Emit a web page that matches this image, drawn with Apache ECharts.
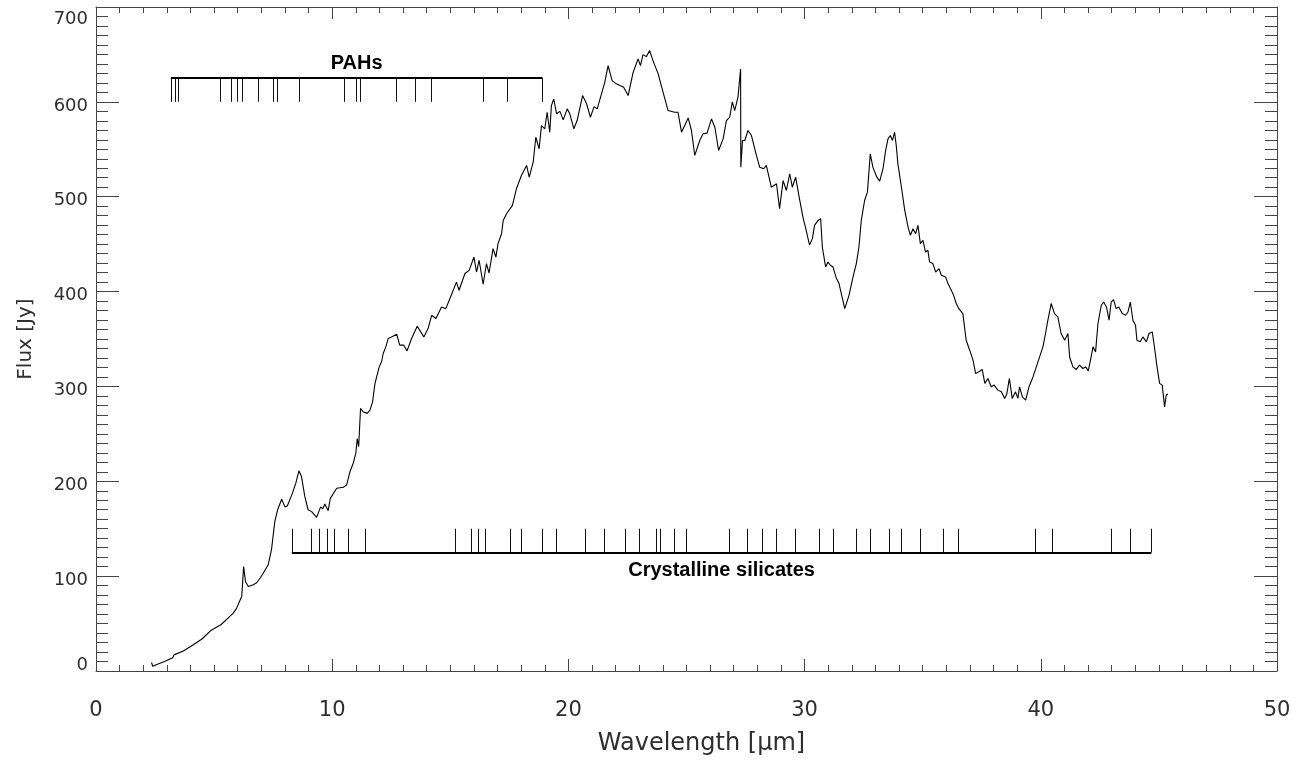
<!DOCTYPE html>
<html>
<head>
<meta charset="utf-8">
<script src="https://cdn.jsdelivr.net/npm/echarts@6/dist/echarts.min.js"></script>
<style>
  html, body { margin: 0; padding: 0; background: #ffffff; }
  #chart { width: 1306px; height: 765px; }
</style>
</head>
<body>
<div id="chart"></div>
<script>
// Spectrum: wavelength (µm) and flux density (Jy)
const wavelength = [
  2.35, 2.4, 2.6, 2.9, 3.25, 3.3, 3.35, 3.7, 4.12, 4.5, 4.88, 4.93, 5.3, 5.6, 5.81, 5.95,
  6.07, 6.17, 6.25, 6.33, 6.45, 6.66, 6.8, 6.95, 7.08, 7.29, 7.43, 7.57, 7.69, 7.86,
  8.0, 8.1, 8.31, 8.46, 8.59, 8.7, 8.84, 8.98, 9.13, 9.34, 9.51, 9.6, 9.69, 9.83, 9.92,
  10.19, 10.47, 10.61, 10.75, 10.89, 11.0, 11.06, 11.12, 11.2, 11.31, 11.48, 11.6, 11.71,
  11.81, 11.88, 11.99, 12.09, 12.16, 12.27, 12.37, 12.51, 12.73, 12.86, 13.03, 13.17,
  13.36, 13.6, 13.88, 14.06, 14.21, 14.39, 14.63, 14.81, 15.01, 15.26, 15.37, 15.62,
  15.8, 16.0, 16.11, 16.22, 16.39, 16.53, 16.64, 16.81, 16.93, 17.02, 17.17, 17.24,
  17.38, 17.63, 17.8, 18.01, 18.23, 18.34, 18.51, 18.62, 18.76, 18.86, 19.0, 19.1,
  19.21, 19.28, 19.38, 19.5, 19.64, 19.78, 19.95, 20.06, 20.23, 20.37, 20.6, 20.77,
  20.93, 21.09, 21.22, 21.4, 21.54, 21.68, 21.85, 22.03, 22.2, 22.34, 22.53, 22.74,
  22.95, 23.05, 23.16, 23.3, 23.44, 23.58, 23.8, 24.01, 24.22, 24.5, 24.64, 24.79,
  25.07, 25.21, 25.35, 25.56, 25.7, 25.87, 26.06, 26.2, 26.36, 26.55, 26.69, 26.83,
  26.94, 27.04, 27.18, 27.29, 27.3, 27.37, 27.47, 27.6, 27.75, 27.96, 28.1, 28.27,
  28.38, 28.59, 28.81, 28.94, 29.09, 29.23, 29.37, 29.48, 29.62, 29.79, 29.93, 30.05,
  30.21, 30.33, 30.42, 30.57, 30.68, 30.75, 30.89, 30.99, 31.09, 31.2, 31.35, 31.46,
  31.52, 31.7, 31.88, 32.05, 32.19, 32.3, 32.4, 32.54, 32.66, 32.78, 32.89, 33.06,
  33.18, 33.32, 33.43, 33.53, 33.63, 33.72, 33.81, 33.88, 33.95, 34.1, 34.24, 34.38,
  34.48, 34.59, 34.7, 34.8, 34.9, 35.01, 35.12, 35.22, 35.29, 35.43, 35.55, 35.69,
  35.79, 35.97, 36.07, 36.21, 36.31, 36.42, 36.53, 36.7, 36.84, 36.99, 37.13, 37.24,
  37.38, 37.52, 37.63, 37.76, 37.9, 38.03, 38.18, 38.33, 38.47, 38.56, 38.67, 38.79,
  38.93, 39.03, 39.1, 39.22, 39.36, 39.5, 39.67, 39.81, 39.95, 40.09, 40.2, 40.3,
  40.44, 40.58, 40.72, 40.86, 41.01, 41.15, 41.22, 41.36, 41.5, 41.64, 41.78, 41.9,
  42.01, 42.13, 42.21, 42.32, 42.42, 42.56, 42.66, 42.78, 42.89, 42.98, 43.08, 43.19,
  43.3, 43.45, 43.59, 43.69, 43.79, 43.9, 44.01, 44.07, 44.21, 44.32, 44.47, 44.58,
  44.72, 44.82, 44.91, 45.03, 45.14, 45.24, 45.31, 45.38
];
const flux = [
  9, 5, 7, 10, 14, 17, 15.5, 21, 27.7, 34, 43, 41, 49, 56, 61, 66,
  73, 78.5, 110, 94, 89, 91, 93, 98, 103, 112, 128, 157.5, 170, 181,
  173, 174, 187, 198, 211, 205, 184, 170, 168, 162, 173, 171, 176, 169, 182,
  192.6, 193.7, 196, 210, 219, 229.5, 245, 236.4, 276.8, 273.3, 271.6, 275, 283.8,
  303, 304.8, 320.6, 326, 334.7, 341.7, 350.5, 352.2, 355, 343.5, 343.5, 337.5,
  350.5, 363.5, 352.2, 361, 375, 371.6, 383.8, 382, 394.3, 410, 401.4, 419,
  422.4, 436.4, 420.6, 433, 407.7, 429.5, 419.6, 445.3, 436.4, 450.5, 461, 475,
  482, 490.8, 508.4, 522.4, 533, 520.6, 536.4, 562.7, 550.5, 575, 571.6, 589,
  568, 596, 603, 587.4, 590, 581, 592.6, 587.4, 571.6, 580.3, 606.6, 598,
  583.8, 595, 592.6, 608.4, 620.6, 638.2, 622.4, 619, 617, 615.4, 606.6, 631,
  645.3, 638.2, 649.8, 647.7, 654, 643.5, 629.5, 610, 590.8, 589, 589, 568,
  583, 569.8, 543.5, 559.3, 566.3, 567, 582, 573.3, 548.7, 561, 580.3, 583.8,
  600, 590.8, 605, 634.7, 531, 559.3, 559.3, 569.8, 564.5, 543.5, 531, 529.5,
  533, 510, 513.7, 487.4, 517, 506.6, 524.2, 510, 520.6, 497, 478.5, 466.3,
  449, 455.8, 469.8, 475, 476.8, 447, 426, 431.2, 427.7, 426, 413.7, 408.4,
  401.4, 382, 396, 415.4, 429.5, 447, 475, 496, 504.8, 545.3, 531.2, 520.6,
  516.4, 529.5, 548.7, 561, 564.5, 559.3, 568, 554, 534.7, 510, 485.6, 468,
  459.3, 466.3, 461, 469.8, 450.5, 454, 441.7, 443.5, 431.2, 429.5, 420.6, 424.2,
  417.2, 415.4, 408.4, 401.4, 396, 387.4, 382, 376.8, 348.7, 338.2, 327.7, 313.7,
  315.4, 317.9, 303.2, 308.4, 299.6, 301.4, 296.1, 294.3, 287.4, 291.9, 308.4, 287.4,
  294.3, 287.4, 299.6, 289, 285.6, 299.6, 310, 320.6, 331.2, 341.7, 355.8, 369.8,
  387.4, 376.8, 373.3, 355.8, 348.7, 355.8, 331, 320.6, 317.9, 322.4, 318.9, 320.6,
  316.4, 331.2, 341.7, 336.4, 366.3, 385.6, 389, 383.8, 369.8, 389, 391.6, 382,
  383.8, 376.8, 375, 378.5, 389, 369.8, 364.5, 348.7, 347, 352.2, 347, 355.8,
  357.5, 340, 322.4, 303.2, 301.4, 278.5, 291, 292
];

// Band positions (µm) marked above and below the spectrum
const pahBands = [3.2, 3.34, 3.47, 5.25, 5.71, 5.98, 6.18, 6.89, 7.5, 7.67, 8.59,
  10.5, 11.0, 11.17, 12.7, 13.5, 14.21, 16.39, 17.41, 18.9];
const silicateBands = [8.29, 9.13, 9.45, 9.79, 10.1, 10.69, 11.41, 15.19, 15.9, 16.18,
  16.5, 17.52, 17.99, 18.9, 19.5, 20.71, 21.5, 22.4, 22.99, 23.7, 23.87, 24.5, 24.99,
  26.8, 27.58, 28.2, 28.81, 29.61, 30.6, 31.2, 32.19, 32.8, 33.6, 34.08, 34.88, 35.89,
  36.49, 39.78, 40.49, 42.98, 43.79, 44.68];

// Marker bars: [start µm, end µm], bar level and tick end level (Jy)
const pahBar = [3.17, 18.9];
const pahLevels = [625, 600];
const silicateBar = [8.29, 44.68];
const silicateLevels = [125, 150];

const bandNames = ['PAHs', 'Crystalline silicates'];
const axisNames = ['Wavelength [µm]', 'Flux [Jy]'];

const AXIS_COLOR = '#444444';
const TEXT_COLOR = '#2e2e2e';
const NUM_FONT = 'DejaVu Sans';

function xAxisDef(pos, withLabels) {
  return {
    type: 'value', position: pos, min: 0, max: 50, interval: 10,
    axisLine: { show: true, onZero: false, lineStyle: { color: AXIS_COLOR, width: 1 } },
    axisTick: { show: true, inside: true, length: 12, lineStyle: { color: AXIS_COLOR, width: 1 } },
    minorTick: { show: true, splitNumber: 10, length: 6, lineStyle: { color: AXIS_COLOR, width: 1 } },
    splitLine: { show: false },
    minorSplitLine: { show: false },
    axisLabel: withLabels ? {
      show: true, margin: 29, fontFamily: NUM_FONT, fontSize: 21, color: TEXT_COLOR
    } : { show: false },
    name: withLabels ? axisNames[0] : '',
    nameLocation: 'middle',
    nameGap: 61,
    nameTextStyle: { fontFamily: NUM_FONT, fontSize: 24, color: TEXT_COLOR, padding: [0, 0, 0, 30] }
  };
}

function yAxisDef(pos, withLabels) {
  const rich = {
    n: { fontFamily: NUM_FONT, fontSize: 18, color: TEXT_COLOR, padding: [8, 0, 0, 0] },
    lo: { fontFamily: NUM_FONT, fontSize: 18, color: TEXT_COLOR, padding: [0, 0, 12, 0] },
    hi: { fontFamily: NUM_FONT, fontSize: 18, color: TEXT_COLOR, padding: [24, 0, 0, 0] }
  };
  return {
    type: 'value', position: pos, min: 0, max: 700, interval: 100,
    axisLine: { show: true, onZero: false, lineStyle: { color: AXIS_COLOR, width: 1 } },
    axisTick: { show: true, inside: true, length: 23, lineStyle: { color: AXIS_COLOR, width: 1 } },
    minorTick: { show: true, splitNumber: 10, length: 12, lineStyle: { color: AXIS_COLOR, width: 1 } },
    splitLine: { show: false },
    minorSplitLine: { show: false },
    axisLabel: withLabels ? {
      show: true, margin: 8, fontFamily: NUM_FONT, fontSize: 18, color: TEXT_COLOR,
      formatter: function (v) {
        if (v === 0) return '{lo|0}';
        if (v === 700) return '{hi|700}';
        return '{n|' + v + '}';
      },
      rich: rich
    } : { show: false },
    name: withLabels ? axisNames[1] : '',
    nameLocation: 'middle',
    nameRotate: 90,
    nameGap: 60,
    nameTextStyle: { fontFamily: NUM_FONT, fontSize: 20, color: TEXT_COLOR }
  };
}

function bandLabel(position, text, distance) {
  return {
    show: true, position: position, formatter: text, distance: distance,
    fontFamily: 'Liberation Sans', fontWeight: 'bold', fontSize: 20, color: '#000000'
  };
}

const chart = echarts.init(document.getElementById('chart'), null, { renderer: 'canvas' });

chart.setOption({
  animation: false,
  backgroundColor: '#ffffff',
  grid: { left: 96, right: 29, top: 7, bottom: 94, containLabel: false },
  xAxis: [xAxisDef('bottom', true), xAxisDef('top', false)],
  yAxis: [yAxisDef('left', true), yAxisDef('right', false)],
  series: [
    {
      type: 'line',
      data: wavelength.map((w, i) => [w, flux[i]]),
      showSymbol: false,
      symbol: 'none',
      lineStyle: { color: '#000000', width: 1.1 },
      z: 3
    },
    {
      type: 'lines',
      coordinateSystem: 'cartesian2d',
      data: pahBands.map(w => ({ coords: [[w, pahLevels[0]], [w, pahLevels[1]]] })),
      lineStyle: { color: '#111111', width: 1, opacity: 1 },
      z: 2
    },
    {
      type: 'lines',
      coordinateSystem: 'cartesian2d',
      data: [{ coords: [[pahBar[0], pahLevels[0]], [pahBar[1], pahLevels[0]]] }],
      lineStyle: { color: '#000000', width: 2, opacity: 1 },
      label: bandLabel('insideMiddleTop', bandNames[0], 5),
      z: 2
    },
    {
      type: 'lines',
      coordinateSystem: 'cartesian2d',
      data: silicateBands.map(w => ({ coords: [[w, silicateLevels[0]], [w, silicateLevels[1]]] })),
      lineStyle: { color: '#111111', width: 1, opacity: 1 },
      z: 2
    },
    {
      type: 'lines',
      coordinateSystem: 'cartesian2d',
      data: [{ coords: [[silicateBar[0], silicateLevels[0]], [silicateBar[1], silicateLevels[0]]] }],
      lineStyle: { color: '#000000', width: 2, opacity: 1 },
      label: bandLabel('insideMiddleBottom', bandNames[1], 8),
      z: 2
    }
  ]
});
</script>
</body>
</html>
